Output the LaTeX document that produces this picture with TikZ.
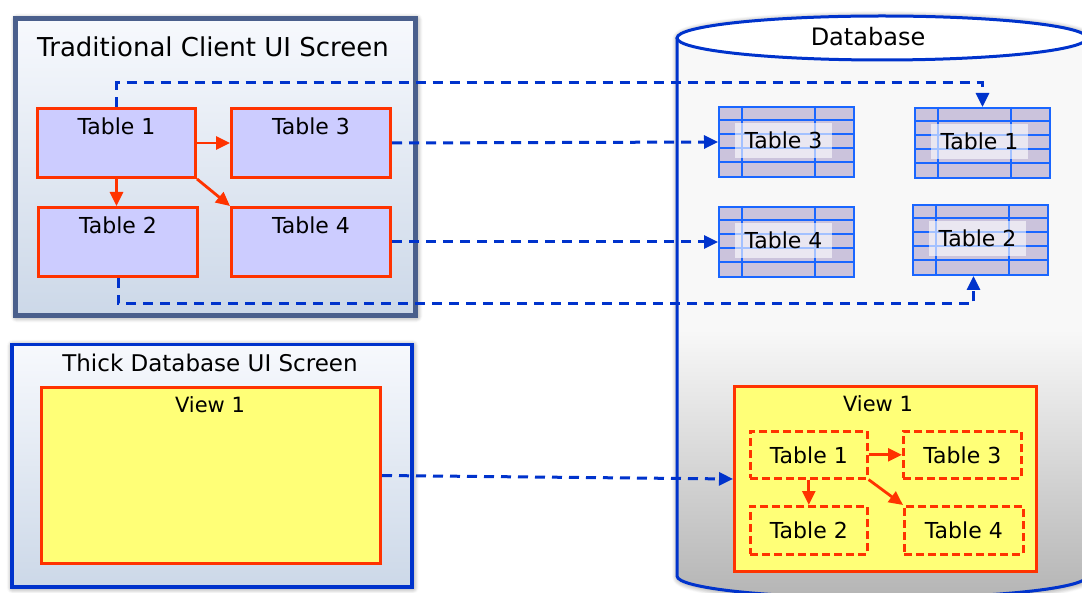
\documentclass[tikz,border=0pt]{standalone}
\usepackage{fontspec}
\setmainfont{DejaVu Sans}
\usetikzlibrary{arrows.meta,shadows.blur}

\definecolor{linkblue}{HTML}{0033CC}
\definecolor{relred}{HTML}{FF3300}
\definecolor{tablav}{HTML}{CCCCFF}
\definecolor{gridblue}{HTML}{1A66FF}
\definecolor{gridfill}{HTML}{CBC3DC}
\definecolor{viewyellow}{HTML}{FFFF77}
\definecolor{panelframe}{HTML}{4A5F8C}
\definecolor{paneltop}{HTML}{F7F9FD}
\definecolor{panelbottom}{HTML}{CCD8E8}
\definecolor{dbtop}{HTML}{F8F8F8}
\definecolor{dbbottom}{HTML}{B4B4B4}

% grid-style database table: name, x, y (top left), label
\newcommand\dbgrid[4]{%
  \node[gridtab, anchor=north west] (#1) at (#2,#3) {};
  \foreach \r in {1,...,4}
    \draw[gridline] ([yshift=-14*\r pt]#1.north west) -- ([yshift=-14*\r pt]#1.north east);
  \draw[gridline] ([xshift=24pt]#1.north west) -- ([xshift=24pt]#1.south west);
  \draw[gridline] ([xshift=97pt]#1.north west) -- ([xshift=97pt]#1.south west);
  \node[gridlabel] (#1-label) at ([xshift=-3pt, yshift=1.5pt]#1.center) {#4};
}

\begin{document}
\begin{tikzpicture}[x=1pt, y=-1pt,
  panelshadow/.style={blur shadow={shadow blur steps=10, shadow xshift=1pt,
      shadow yshift=-1pt, shadow blur radius=6pt, shadow opacity=55}},
  panel/.style={rectangle, inner sep=0, top color=paneltop, bottom color=panelbottom,
      panelshadow},
  title/.style={font=\fontsize{26}{30}\selectfont, inner sep=0},
  lbl/.style={font=\fontsize{22}{26}\selectfont, inner sep=0},
  uibox/.style={draw=relred, line width=3pt, fill=tablav, inner sep=0,
      minimum width=158, minimum height=69},
  viewbox/.style={draw=relred, line width=3pt, fill=viewyellow, inner sep=0},
  innerbox/.style={draw=relred, line width=2.6pt, dash pattern=on 8pt off 4pt,
      inner sep=0, minimum width=117, minimum height=47,
      font=\fontsize{22}{26}\selectfont},
  gridtab/.style={fill=gridfill, draw=gridblue, line width=2pt, inner sep=0,
      minimum width=135, minimum height=70},
  gridline/.style={draw=gridblue, line width=2pt},
  gridlabel/.style={fill=white, fill opacity=0.6, text opacity=1, inner sep=0,
      minimum width=97, minimum height=35, font=\fontsize{22}{26}\selectfont},
  rel/.style={draw=relred, line width=2.8pt, -{Triangle[length=14pt, width=13pt]}},
  link/.style={draw=linkblue, line width=3pt, dash pattern=on 10pt off 7pt,
      -{Triangle[length=14pt, width=13pt]}},
]
\useasboundingbox (0,0) rectangle (1082,593);

% ---------- database cylinder ----------
\begin{scope}
  \clip (0,0) rectangle (1082,593);
  \path[panelshadow, fill=dbtop]
    (677,38) -- (677,576) arc[start angle=180, end angle=360, x radius=205pt, y radius=22pt]
    -- (1087,38) arc[start angle=0, end angle=180, x radius=205pt, y radius=22pt] -- cycle;
  \begin{scope}
    \clip (677,38) -- (677,576) arc[start angle=180, end angle=360, x radius=205pt, y radius=22pt]
      -- (1087,38) -- cycle;
    \fill[top color=dbtop, bottom color=dbbottom] (670,330) rectangle (1090,600);
  \end{scope}
  \draw[linkblue, line width=3pt]
    (677,38) -- (677,576) arc[start angle=180, end angle=360, x radius=205pt, y radius=22pt]
    -- (1087,38);
  \draw[linkblue, line width=3pt, fill=white] (882,38) ellipse[x radius=205pt, y radius=22pt];
\end{scope}
\node[font=\fontsize{24}{28}\selectfont, inner sep=0] (dbname) at (868,37) {Database};

% ---------- traditional client screen ----------
\node[panel, draw=panelframe, line width=5pt, anchor=north west,
      minimum width=400, minimum height=297] (client) at (13,16) {};
\node[title] (clienttitle) at (213,47) {Traditional Client UI Screen};

\node[uibox, anchor=north west] (t1) at (36,107) {};
\node[uibox, anchor=north west, minimum width=159] (t3) at (230,107) {};
\node[uibox, anchor=north west, minimum width=159] (t2) at (37,206) {};
\node[uibox, anchor=north west, minimum width=159] (t4) at (230,206) {};
\node[lbl] (t1txt) at ([yshift=-19pt]t1.north) {Table 1};
\node[lbl] (t3txt) at ([yshift=-19pt]t3.north) {Table 3};
\node[lbl] (t2txt) at ([yshift=-19pt]t2.north) {Table 2};
\node[lbl] (t4txt) at ([yshift=-19pt]t4.north) {Table 4};

\draw[rel] (t1.east) -- (t3.west);
\draw[rel] (t1.south) -- (t1.south |- t2.north);
\draw[rel] (t1.south east) -- (t4.north west);

% ---------- thick database screen ----------
\node[panel, draw=linkblue, line width=3.5pt, anchor=north west,
      minimum width=400, minimum height=242] (thick) at (10,343) {};
\node[title, font=\fontsize{23}{27}\selectfont] (thicktitle) at (210,363) {Thick Database UI Screen};
\node[viewbox, anchor=north west, minimum width=339, minimum height=176] (v1) at (40,386) {};
\node[lbl, font=\fontsize{21}{25}\selectfont] (v1txt) at (210,405) {View 1};

% ---------- tables stored in the database ----------
\dbgrid{d3}{718}{106}{Table 3}
\dbgrid{d1}{914}{107}{Table 1}
\dbgrid{d4}{718}{206}{Table 4}
\dbgrid{d2}{912}{204}{Table 2}

% ---------- view stored in the database ----------
\node[viewbox, anchor=north west, minimum width=302, minimum height=185] (dv) at (733,385) {};
\node[lbl, font=\fontsize{21}{25}\selectfont] (dvtxt) at (878,404) {View 1};
\node[innerbox, anchor=north west] (i1) at (749,430) {Table 1};
\node[innerbox, anchor=north west, minimum width=118] (i3) at (902,430) {Table 3};
\node[innerbox, anchor=north west, minimum height=48] (i2) at (749,505) {Table 2};
\node[innerbox, anchor=north west, minimum width=119, minimum height=48] (i4) at (903,505) {Table 4};

\draw[rel] (i1.east) -- (i3.west);
\draw[rel] (i1.south) -- (i1.south |- i2.north);
\draw[rel] (i1.south east) -- (i4.north west);

% ---------- mappings from screens to database objects ----------
\draw[link] (t1.north) -- ++(0,-24) -| (d1.north);
\draw[link] (t3.east) -- (d3.west);
\draw[link] (t4.east) -- (d4.west);
\draw[link] (t2.south) -- ++(0,26) -| ([xshift=-7pt]d2.south);
\draw[link] (v1.east) -- (dv.west);
\end{tikzpicture}
\end{document}
